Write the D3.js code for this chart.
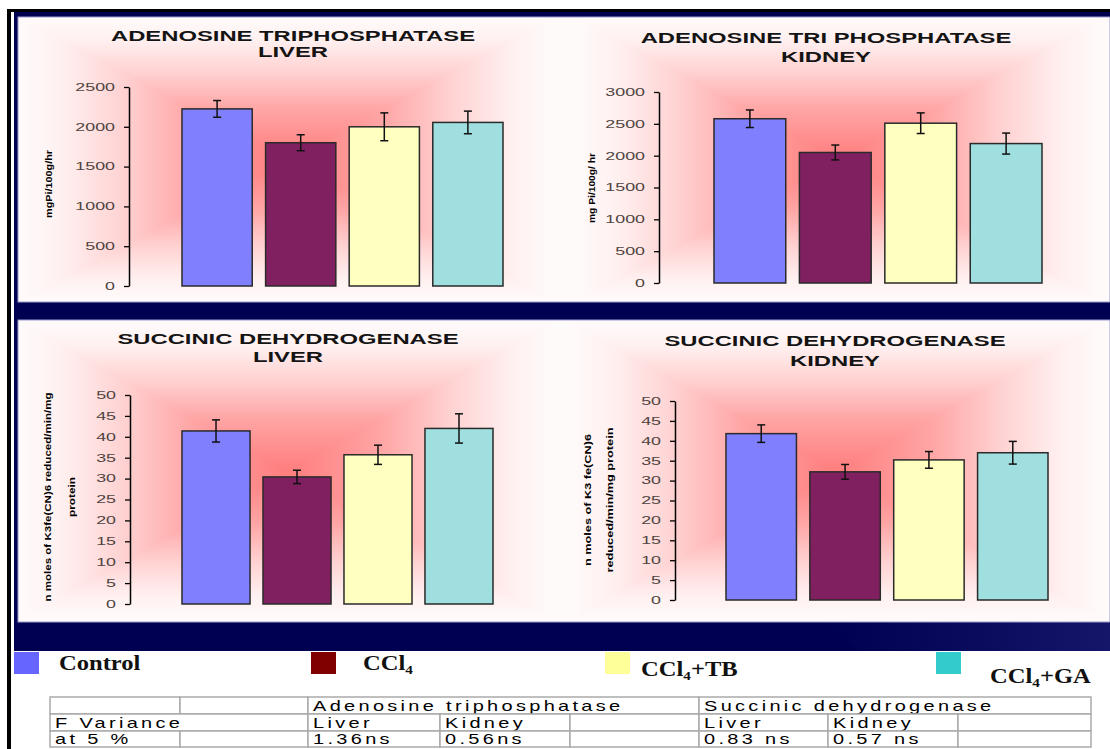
<!DOCTYPE html>
<html><head><meta charset="utf-8">
<script src="https://cdn.jsdelivr.net/npm/d3@7"></script>
<style>body{margin:0;background:#fff;} svg{display:block;}</style>
</head><body>
<svg id="c" width="1110" height="749"></svg>
<script>
// ---------- DATA ----------
const groups = ["Control", "CCl4", "CCl4+TB", "CCl4+GA"];
const atpLiverMeans = [2225, 1800, 2000, 2055];
const atpLiverErrs = [105, 100, 175, 142];
const atpKidneyMeans = [2580, 2050, 2510, 2190];
const atpKidneyErrs = [138, 117, 162, 165];
const sdhLiverMeans = [41.4, 30.4, 35.7, 42.0];
const sdhLiverErrs = [2.65, 1.6, 2.3, 3.5];
const sdhKidneyMeans = [41.8, 32.2, 35.2, 37.0];
const sdhKidneyErrs = [2.2, 1.85, 2.1, 2.85];
const atpLiverTicks = [0, 500, 1000, 1500, 2000, 2500];
const atpKidneyTicks = [0, 500, 1000, 1500, 2000, 2500, 3000];
const sdhTicks = [0, 5, 10, 15, 20, 25, 30, 35, 40, 45, 50];
const chartTitles = [
  ["ADENOSINE TRIPHOSPHATASE", "LIVER"],
  ["ADENOSINE TRI PHOSPHATASE", "KIDNEY"],
  ["SUCCINIC DEHYDROGENASE", "LIVER"],
  ["SUCCINIC DEHYDROGENASE", "KIDNEY"]
];
const yAxisLabels = [
  ["mgPi/100g/hr"],
  ["mg Pi/100g/ hr"],
  ["n moles of K3fe(CN)6 reduced/min/mg", "protein"],
  ["n moles of K3 fe(CN)6", "reduced/min/mg protein"]
];
const legendLabels = ["Control", "CCl4", "CCl4+TB", "CCl4+GA"];
const tableHeader = [["", 1], ["", 1], ["Adenosine triphosphatase", 3], ["Succinic dehydrogenase", 3]];
const tableRow2 = [["F Variance", 2], ["Liver", 1], ["Kidney", 1], ["", 1], ["Liver", 1], ["Kidney", 1], ["", 1]];
const tableRow3 = [["at 5 %", 1], ["", 1], ["1.36ns", 1], ["0.56ns", 1], ["", 1], ["0.83 ns", 1], ["0.57 ns", 1], ["", 1]];

const panels = [
  {means: atpLiverMeans, errs: atpLiverErrs, ticks: atpLiverTicks},
  {means: atpKidneyMeans, errs: atpKidneyErrs, ticks: atpKidneyTicks},
  {means: sdhLiverMeans, errs: sdhLiverErrs, ticks: sdhTicks},
  {means: sdhKidneyMeans, errs: sdhKidneyErrs, ticks: sdhTicks}
];

// ---------- LAYOUT / STYLE ----------
const barColors = ["#8080ff", "#802060", "#ffffc0", "#a0dfdf"];
const legendColors = ["#6666ff", "#800000", "#ffff99", "#33cccc"];
const NAVY = "#000050";
const layout = [
  {area:[22,552,19,300], axisX:129, yRange:[286,87], xRange:[182,503], titleX:293, titleY:[41,57], labelX:[49], labelY:184, labelLen:[68]},
  {area:[578,1102,19,300], axisX:659, yRange:[283,92], xRange:[714,1042], titleX:826, titleY:[43,62], labelX:[592], labelY:188, labelLen:[70]},
  {area:[22,552,324,618], axisX:130, yRange:[604,395], xRange:[182,493], titleX:288, titleY:[344,362], labelX:[48,72], labelY:497, labelLen:[209,40]},
  {area:[572,1102,324,618], axisX:675, yRange:[600,401], xRange:[726,1048], titleX:835, titleY:[346,366], labelX:[588,610], labelY:500, labelLen:[132,145]}
];

const svg = d3.select("#c");
const defs = svg.append("defs");

function stretch(sel, f) {
  sel.each(function () {
    const L = this.getComputedTextLength();
    this.setAttribute("textLength", L * f);
    this.setAttribute("lengthAdjust", "spacingAndGlyphs");
  });
}

// ---------- FRAME ----------
svg.append("rect").attr("width", 1110).attr("height", 749).attr("fill", "#fff");
svg.append("rect").attr("x", 7).attr("y", 9).attr("width", 1103).attr("height", 3).attr("fill", "#000");
svg.append("rect").attr("x", 7).attr("y", 9).attr("width", 4).attr("height", 740).attr("fill", "#000");
svg.append("rect").attr("x", 14).attr("y", 12).attr("width", 1096).attr("height", 639).attr("fill", NAVY);
const sheen = defs.append("linearGradient").attr("id", "sheen").attr("x1", 0).attr("y1", 0).attr("x2", 1).attr("y2", 0);
sheen.append("stop").attr("offset", 0).attr("stop-color", "#1a1a70").attr("stop-opacity", 0);
sheen.append("stop").attr("offset", 1).attr("stop-color", "#1a1a70").attr("stop-opacity", 0.8);
svg.append("polygon").attr("points", "820,622 1110,622 1110,651 860,651").attr("fill", "url(#sheen)");
[[17, 302], [320, 622]].forEach(([a, b]) => {
  svg.append("rect").attr("x", 18).attr("y", a).attr("width", 1092).attr("height", b - a)
    .attr("fill", "#fffafa").attr("stroke", "#9c9cd0").attr("stroke-width", 1);
});

// ---------- CHARTS ----------
const stops = [[0, "#ff7d7d"], [0.35, "#ffa4a4"], [0.62, "#ffd2d2"], [0.85, "#fff0f0"], [1, "#fffafa"]];
function drawGradient(area, idx) {
  const [x0, x1, y0, y1] = area, cx = (x0 + x1) / 2, cy = (y0 + y1) / 2;
  const tris = [
    {pts: [[cx, cy], [x0, y0], [x1, y0]], end: [cx, y0]},
    {pts: [[cx, cy], [x0, y1], [x1, y1]], end: [cx, y1]},
    {pts: [[cx, cy], [x0, y0], [x0, y1]], end: [x0, cy]},
    {pts: [[cx, cy], [x1, y0], [x1, y1]], end: [x1, cy]}
  ];
  tris.forEach((t, k) => {
    const id = `bg${idx}_${k}`;
    const lg = defs.append("linearGradient").attr("id", id).attr("gradientUnits", "userSpaceOnUse")
      .attr("x1", cx).attr("y1", cy).attr("x2", t.end[0]).attr("y2", t.end[1]);
    stops.forEach(s => lg.append("stop").attr("offset", s[0]).attr("stop-color", s[1]));
    svg.append("polygon").attr("points", t.pts.map(p => p.join(",")).join(" "))
      .attr("fill", `url(#${id})`).attr("stroke", `url(#${id})`).attr("stroke-width", 1);
  });
}

panels.forEach((p, i) => {
  const L = layout[i];
  drawGradient(L.area, i);
  const g = svg.append("g");
  const x = d3.scaleBand().domain(groups).range(L.xRange).paddingInner(0.16).paddingOuter(0);
  const y = d3.scaleLinear().domain([0, p.ticks[p.ticks.length - 1]]).range(L.yRange);

  g.selectAll("rect.bar").data(groups).join("rect").attr("class", "bar")
    .attr("x", d => x(d)).attr("width", x.bandwidth())
    .attr("y", (d, j) => y(p.means[j])).attr("height", (d, j) => y(0) - y(p.means[j]))
    .attr("fill", (d, j) => barColors[j]).attr("stroke", "#2a2a2a").attr("stroke-width", 1.5);

  const eb = g.selectAll("g.err").data(groups).join("g").attr("class", "err");
  const cxF = d => x(d) + x.bandwidth() / 2;
  eb.append("line").attr("x1", cxF).attr("x2", cxF)
    .attr("y1", (d, j) => y(p.means[j] - p.errs[j])).attr("y2", (d, j) => y(p.means[j] + p.errs[j]));
  eb.append("line").attr("x1", d => cxF(d) - 4).attr("x2", d => cxF(d) + 4)
    .attr("y1", (d, j) => y(p.means[j] + p.errs[j])).attr("y2", (d, j) => y(p.means[j] + p.errs[j]));
  eb.append("line").attr("x1", d => cxF(d) - 4).attr("x2", d => cxF(d) + 4)
    .attr("y1", (d, j) => y(p.means[j] - p.errs[j])).attr("y2", (d, j) => y(p.means[j] - p.errs[j]));
  eb.selectAll("line").attr("stroke", "#111").attr("stroke-width", 1.5);

  const ax = g.append("g").attr("transform", `translate(${L.axisX},0)`)
    .call(d3.axisLeft(y).tickValues(p.ticks).tickFormat(d3.format("d")).tickSize(5).tickPadding(9).tickSizeOuter(0));
  ax.select(".domain").attr("stroke", "#000").attr("stroke-width", 1.5);
  ax.selectAll(".tick line").attr("stroke", "#000").attr("stroke-width", 1.3);
  ax.selectAll(".tick text").attr("font-family", "Liberation Sans, Arial, sans-serif")
    .attr("font-size", 10.5).attr("fill", "#4e4440");
  stretch(ax.selectAll(".tick text"), 1.7);

  chartTitles[i].forEach((t, k) => {
    const tt = svg.append("text").attr("x", L.titleX).attr("y", L.titleY[k])
      .attr("text-anchor", "middle").attr("font-family", "Liberation Sans, Arial, sans-serif")
      .attr("font-weight", "bold").attr("font-size", 14).attr("fill", "#141414").text(t);
    stretch(tt, 1.7);
  });

  yAxisLabels[i].forEach((t, k) => {
    svg.append("text").attr("transform", `translate(${L.labelX[k]},${L.labelY}) rotate(-90)`)
      .attr("text-anchor", "middle").attr("dy", "0.35em")
      .attr("font-family", "Liberation Sans, Arial, sans-serif").attr("font-weight", "bold")
      .attr("font-size", 8.5).attr("fill", "#000")
      .attr("textLength", L.labelLen[k]).attr("lengthAdjust", "spacingAndGlyphs").text(t);
  });
});

// ---------- LEGEND ----------
const legendPos = [
  {sx: 14, tx: 59, ty: 670},
  {sx: 311, tx: 363, ty: 670},
  {sx: 605, tx: 641, ty: 676},
  {sx: 936, tx: 990, ty: 683}
];
legendLabels.forEach((lab, i) => {
  const P = legendPos[i];
  svg.append("rect").attr("x", P.sx).attr("y", 652).attr("width", 25).attr("height", 22).attr("fill", legendColors[i]);
  const t = svg.append("g").attr("transform", `translate(${P.tx},${P.ty}) scale(1.17,1)`)
    .append("text").attr("font-family", "Liberation Serif, Times New Roman, serif")
    .attr("font-weight", "bold").attr("font-size", 21).attr("fill", "#111");
  const m = lab.match(/^(CCl)4(.*)$/);
  if (m) {
    t.append("tspan").text(m[1]);
    t.append("tspan").attr("font-size", 13).attr("dy", 4).text("4");
    if (m[2]) t.append("tspan").attr("dy", -4).text(m[2]);
  } else t.text(lab);
});

// ---------- TABLE ----------
const colEdges = [50, 180, 308, 440, 570, 699, 828, 958, 1091];
const rowEdges = [697, 714, 731, 747];
const tg = svg.append("g");
[tableHeader, tableRow2, tableRow3].forEach((row, r) => {
  let c = 0;
  row.forEach(([txt, span]) => {
    const xa = colEdges[c], xb = colEdges[c + span];
    tg.append("rect").attr("x", xa).attr("y", rowEdges[r]).attr("width", xb - xa)
      .attr("height", rowEdges[r + 1] - rowEdges[r]).attr("fill", "#fff")
      .attr("stroke", "#aaaaaa").attr("stroke-width", 1.5);
    if (txt) {
      const tx = tg.append("text").attr("x", xa + 5).attr("y", rowEdges[r + 1] - 3)
        .attr("font-family", "Liberation Sans, Arial, sans-serif").attr("font-size", 15)
        .attr("letter-spacing", "2.5px").attr("fill", "#000").text(txt);
      stretch(tx, 1.33);
    }
    c += span;
  });
});
</script>
</body></html>
